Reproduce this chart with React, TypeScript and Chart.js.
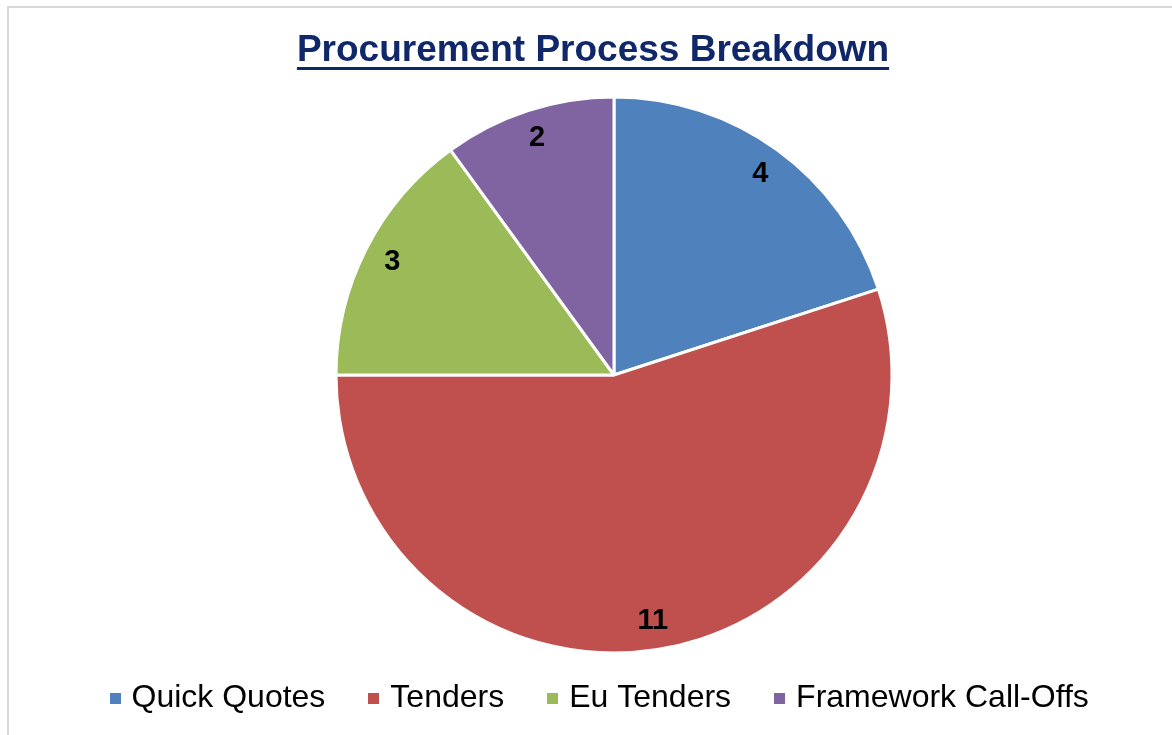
import React, { useEffect, useRef } from "react";
import { Chart, registerables } from "chart.js";

Chart.register(...registerables);

const categories = ["Quick Quotes", "Tenders", "Eu Tenders", "Framework Call-Offs"];
const values = [4, 11, 3, 2];
const sliceColors = ["#4F81BD", "#C0504D", "#9BBB59", "#8064A2"];
const chartTitle = "Procurement Process Breakdown";

const FONT = "'Liberation Sans', Arial, Helvetica, sans-serif";

function makeMarker(color: string): HTMLCanvasElement {
  const c = document.createElement("canvas");
  c.width = 11;
  c.height = 11;
  const g = c.getContext("2d")!;
  g.fillStyle = color;
  g.fillRect(0, 0, 11, 11);
  return c;
}

export default function App() {
  const ref = useRef<HTMLCanvasElement>(null);

  useEffect(() => {
    const canvas = ref.current!;
    const markers = sliceColors.map(makeMarker);

    const framePlugin = {
      id: "frameAndTitle",
      beforeDraw(chart: any) {
        const ctx = chart.ctx;
        ctx.save();
        ctx.fillStyle = "#ffffff";
        ctx.fillRect(0, 0, chart.width, chart.height);
        ctx.fillStyle = "#D9D9D9";
        ctx.fillRect(7, 6, 2, chart.height);
        ctx.fillRect(7, 6, chart.width, 2);
        ctx.font = `bold 37px ${FONT}`;
        ctx.fillStyle = "#10286A";
        ctx.textAlign = "center";
        ctx.textBaseline = "alphabetic";
        const cx = 593;
        ctx.fillText(chartTitle, cx, 60.5);
        const w = ctx.measureText(chartTitle).width;
        ctx.fillRect(cx - w / 2, 67, w, 3);
        ctx.restore();
      },
    };

    const labelPlugin = {
      id: "sliceLabels",
      afterDatasetsDraw(chart: any) {
        const ctx = chart.ctx;
        const meta = chart.getDatasetMeta(0);
        ctx.save();
        ctx.font = `bold 29px ${FONT}`;
        ctx.fillStyle = "#000000";
        ctx.textAlign = "center";
        ctx.textBaseline = "middle";
        meta.data.forEach((arc: any, i: number) => {
          const p = arc.getProps(["x", "y", "startAngle", "endAngle", "outerRadius"], true);
          const mid = (p.startAngle + p.endAngle) / 2;
          const r = p.outerRadius * 0.895;
          ctx.fillText(String(values[i]), p.x + Math.cos(mid) * r, p.y + Math.sin(mid) * r);
        });
        ctx.restore();
      },
    };

    const chart = new Chart(canvas, {
      type: "pie",
      data: {
        labels: categories,
        datasets: [
          {
            data: values,
            backgroundColor: sliceColors,
            borderColor: "#ffffff",
            borderWidth: 3,
            radius: 278,
            clip: false,
          } as any,
        ],
      },
      options: {
        responsive: false,
        animation: false,
        layout: { padding: { left: 66.5, right: 10.5, top: 116, bottom: 11 } },
        plugins: {
          title: { display: false },
          tooltip: { enabled: false },
          legend: {
            position: "bottom",
            align: "start",
            labels: {
              usePointStyle: true,
              pointStyleWidth: 1,
              boxWidth: 11,
              boxHeight: 11,
              padding: 48,
              color: "#000000",
              font: { family: FONT, size: 32 },
              generateLabels(ch: any) {
                const items = Chart.overrides.pie.plugins.legend.labels.generateLabels(ch);
                return items.map((it: any, i: number) => ({
                  ...it,
                  lineWidth: 0,
                  strokeStyle: "rgba(0,0,0,0)",
                  pointStyle: markers[i],
                }));
              },
            },
          },
        },
      } as any,
      plugins: [framePlugin, labelPlugin],
    });

    return () => chart.destroy();
  }, []);

  return (
    <div style={{ position: "fixed", left: 0, top: 0, width: 1172, height: 735, background: "#fff" }}>
      <canvas ref={ref} width={1172} height={735} style={{ display: "block" }} />
    </div>
  );
}
